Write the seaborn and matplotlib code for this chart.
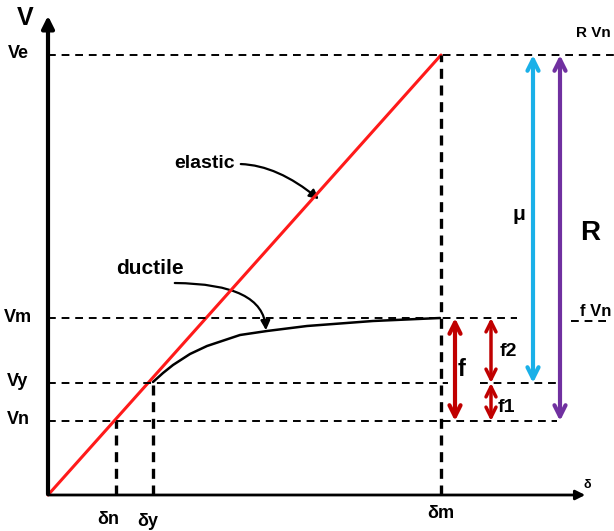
import matplotlib.pyplot as plt
import pandas as pd
import seaborn as sns
from matplotlib.patches import FancyArrowPatch

sns.set_theme(style='white')
plt.rcParams['font.family'] = ['Liberation Sans', 'DejaVu Sans']

# Levels of force (V) and displacement (delta), in plot units
v_levels = {'Vn': 74, 'Vy': 112, 'Vm': 177, 'Ve': 440}
d_levels = {'δn': 68, 'δy': 105, 'δm': 393}

# elastic line: origin -> (δm, Ve)
elastic_x = [0, 393]
elastic_y = [0, 440]

# ductile curve, from (δy, Vy) to (δm, Vm)
ductile_x = [105, 115, 125, 142, 159, 177, 192, 219, 259, 325, 392]
ductile_y = [113, 122, 130, 141, 149, 155, 160, 164, 169, 174, 177]

df_el = pd.DataFrame({'d': elastic_x, 'V': elastic_y})
df_du = pd.DataFrame({'d': ductile_x, 'V': ductile_y})

fig = plt.figure(figsize=(6.14, 5.31), dpi=100)
ax = fig.add_axes([0, 0, 1, 1])
ax.set_xlim(-48, 566)
ax.set_ylim(-36, 495)
ax.axis('off')

sns.lineplot(x='d', y='V', data=df_el, ax=ax, color='#ff1a1a', linewidth=2.2)
sns.lineplot(x='d', y='V', data=df_du, ax=ax, color='black', linewidth=1.8)

# axes arrows
ax.annotate('', xy=(0, 482), xytext=(0, -2),
            arrowprops=dict(arrowstyle='-|>', color='black', lw=3, mutation_scale=18))
ax.annotate('', xy=(540, 0), xytext=(-2, 0),
            arrowprops=dict(arrowstyle='-|>', color='black', lw=2, mutation_scale=14))

dash = dict(color='black', linestyle=(0, (4, 3)), linewidth=1.4)
# horizontal dashed lines
ax.plot([0, 566], [v_levels['Ve']] * 2, **dash)
ax.plot([0, 469], [v_levels['Vm']] * 2, **dash)
ax.plot([523, 559], [v_levels['Vm'] - 3] * 2, **dash)
ax.plot([0, 400], [v_levels['Vy']] * 2, **dash)
ax.plot([432, 509], [v_levels['Vy']] * 2, **dash)
ax.plot([0, 509], [v_levels['Vn']] * 2, **dash)
# vertical dashed lines
dashv = dict(color='black', linestyle=(0, (3, 2)), linewidth=2.4)
ax.plot([d_levels['δn']] * 2, [0, v_levels['Vn']], **dashv)
ax.plot([d_levels['δy']] * 2, [0, v_levels['Vy']], **dashv)
ax.plot([d_levels['δm']] * 2, [0, v_levels['Ve']], **dashv)

# double arrows
def dbl(x, y0, y1, color, lw=3, ms=20):
    ax.annotate('', xy=(x, y1), xytext=(x, y0),
                arrowprops=dict(arrowstyle='<->', color=color, lw=lw,
                                mutation_scale=ms, shrinkA=0, shrinkB=0))

dbl(485, v_levels['Vy'], v_levels['Ve'], '#1ab0e8')
dbl(512, v_levels['Vn'], v_levels['Ve'], '#7030a0')
dbl(407, v_levels['Vn'], v_levels['Vm'], '#c00000')
dbl(443, v_levels['Vy'], v_levels['Vm'], '#c00000', lw=2.5, ms=18)
dbl(443, v_levels['Vn'], v_levels['Vy'], '#c00000', lw=2.5, ms=18)

# curved label arrows
ax.add_patch(FancyArrowPatch((190, 331), (273, 294), connectionstyle='angle3,angleA=0,angleB=-40',
                             arrowstyle='-|>', mutation_scale=14, color='black', lw=1.6))
ax.add_patch(FancyArrowPatch((124, 212), (218, 162), connectionstyle='angle3,angleA=0,angleB=90',
                             arrowstyle='-|>', mutation_scale=14, color='black', lw=1.6))

bold = dict(fontweight='bold', color='black')
ax.text(157, 332, 'elastic', fontsize=14, ha='center', va='center', **bold)
ax.text(102, 226, 'ductile', fontsize=15, ha='center', va='center', **bold)

# y labels
ax.text(-23, 477, 'V', fontsize=18, ha='center', va='center', **bold)
for lab, v in v_levels.items():
    ax.text(-30, v + 1, lab, fontsize=13, ha='center', va='center', **bold)
# x labels
ax.text(60, -24, 'δn', fontsize=13, ha='center', va='center', **bold)
ax.text(100, -27, 'δy', fontsize=13, ha='center', va='center', **bold)
ax.text(393, -18, 'δm', fontsize=13, ha='center', va='center', **bold)
ax.text(539, 10, 'δ', fontsize=9, ha='center', va='center', **bold)

# arrow labels
ax.text(471, 280, 'μ', fontsize=15, ha='center', va='center', **bold)
ax.text(542, 262, 'R', fontsize=20, ha='center', va='center', **bold)
ax.text(414, 125, 'f', fontsize=17, ha='center', va='center', **bold)
ax.text(460, 143, 'f2', fontsize=14, ha='center', va='center', **bold)
ax.text(458, 88, 'f1', fontsize=14, ha='center', va='center', **bold)
ax.text(545, 462, 'R Vn', fontsize=11, ha='center', va='center', **bold)
ax.text(548, 184, 'f Vn', fontsize=12, ha='center', va='center', **bold)

fig.savefig('out.png', dpi=100)
